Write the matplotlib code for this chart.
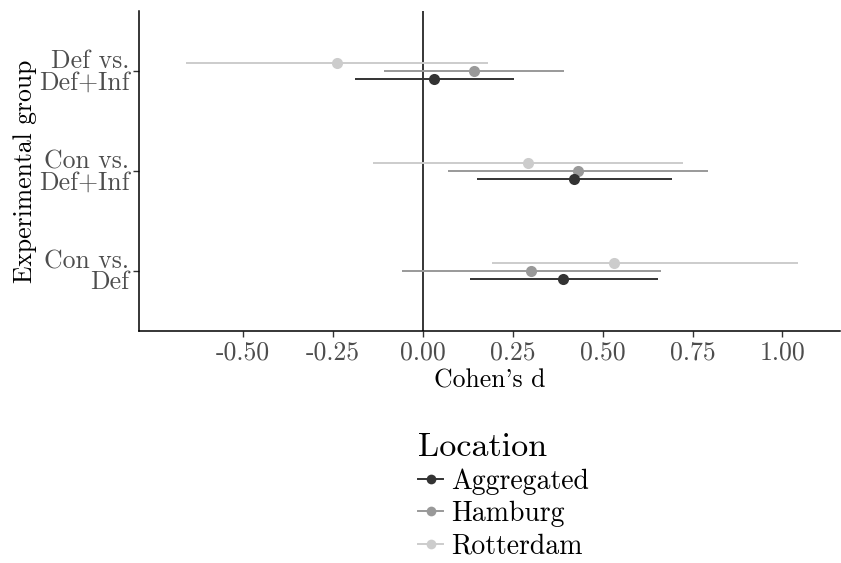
import matplotlib
matplotlib.use("Agg")
import matplotlib.pyplot as plt
from matplotlib.lines import Line2D

# Data
groups = ["Con vs.\nDef", "Con vs.\nDef+Inf", "Def vs.\nDef+Inf"]
locations = ["Aggregated", "Hamburg", "Rotterdam"]
colors = {"Aggregated": "#333333", "Hamburg": "#999999", "Rotterdam": "#cccccc"}

# estimates per location, in the order of `groups`
est_aggregated = [0.389, 0.420, 0.031]
lo_aggregated = [0.131, 0.150, -0.189]
hi_aggregated = [0.653, 0.693, 0.253]

est_hamburg = [0.301, 0.431, 0.141]
lo_hamburg = [-0.058, 0.070, -0.108]
hi_hamburg = [0.663, 0.794, 0.393]

est_rotterdam = [0.531, 0.291, -0.239]
lo_rotterdam = [0.191, -0.139, -0.659]
hi_rotterdam = [1.043, 0.723, 0.182]

xticks = [-0.50, -0.25, 0.00, 0.25, 0.50, 0.75, 1.00]
xticklabels = ["-0.50", "-0.25", "0.00", "0.25", "0.50", "0.75", "1.00"]

series = {
    "Aggregated": (est_aggregated, lo_aggregated, hi_aggregated),
    "Hamburg": (est_hamburg, lo_hamburg, hi_hamburg),
    "Rotterdam": (est_rotterdam, lo_rotterdam, hi_rotterdam),
}
offsets = {"Aggregated": -0.083, "Hamburg": 0.0, "Rotterdam": 0.083}

FONT = "cmr10"
plt.rcParams["font.family"] = FONT
plt.rcParams["axes.unicode_minus"] = False

fig = plt.figure(figsize=(8.41, 5.63), dpi=100)
ax = fig.add_axes([139 / 841, 1 - 331 / 563, (840 - 139) / 841, (331 - 11) / 563])

for loc in ["Rotterdam", "Hamburg", "Aggregated"]:
    est, lo, hi = series[loc]
    for i in range(len(groups)):
        y = i + 1 + offsets[loc]
        ax.plot([lo[i], hi[i]], [y, y], color=colors[loc], lw=1.4, solid_capstyle="butt", zorder=2)
        ax.plot([est[i]], [y], "o", color=colors[loc], ms=8, mec="none", zorder=3)

ax.axvline(0, color="black", lw=1.1, zorder=1)

ax.set_xlim(-0.79, 1.16)
ax.set_ylim(0.4, 3.6)
ax.set_xticks(xticks)
ax.set_xticklabels(xticklabels)
ax.set_yticks([1, 2, 3])
ax.set_yticklabels(groups, linespacing=0.85, ha="right")

for s in ["top", "right"]:
    ax.spines[s].set_visible(False)
for s in ["left", "bottom"]:
    ax.spines[s].set_linewidth(1.1)
    ax.spines[s].set_color("black")

ax.tick_params(axis="both", length=4, width=1.0, color="#333333", labelsize=18.5, labelcolor="#4D4D4D", pad=3)
ax.set_xlabel("Cohen's d", fontsize=18.5, labelpad=3)
ax.set_ylabel("Experimental group", fontsize=18.5, labelpad=1)

handles = [Line2D([0], [0], color=colors[l], lw=1.4, marker="o", ms=7, mec="none") for l in locations]
leg = fig.legend(handles, locations, loc="upper left", bbox_to_anchor=(418 / 841, 1 - 433 / 563),
                 frameon=False, fontsize=20, title="Location", title_fontsize=24.5,
                 handlelength=0.9, handletextpad=0.3, labelspacing=0.22, borderpad=0,
                 borderaxespad=0, alignment="left")

fig.savefig("out.png", dpi=100)
